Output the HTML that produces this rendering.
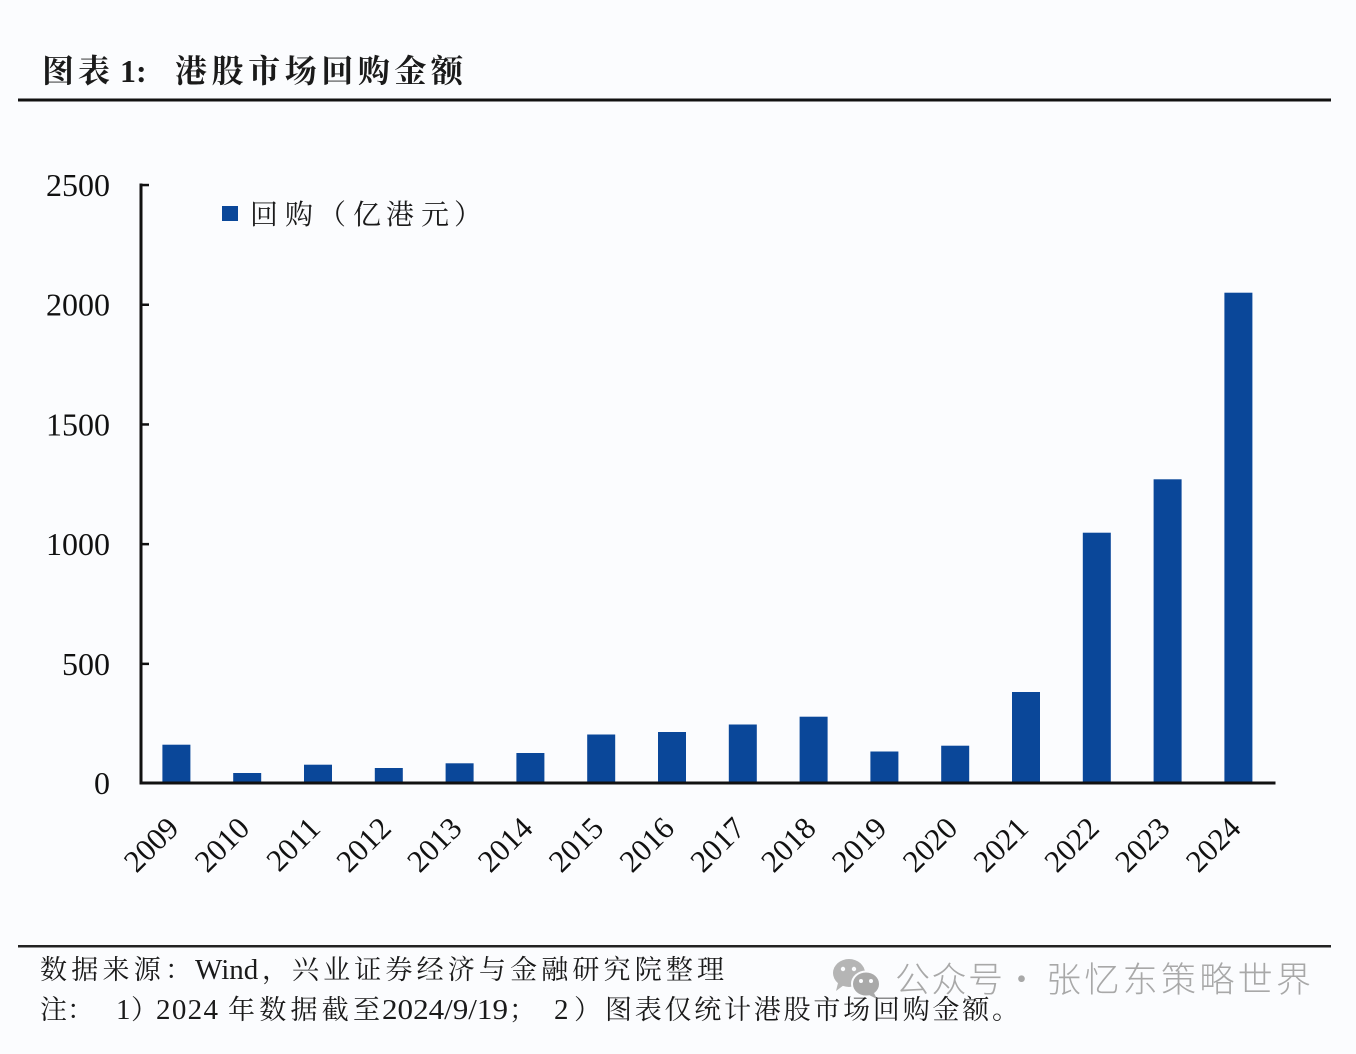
<!DOCTYPE html>
<html>
<head>
<meta charset="utf-8">
<style>
  html,body{margin:0;padding:0;background:#fbfcfe;}
  svg{display:block;}
</style>
</head>
<body>
<svg width="1356" height="1054" viewBox="0 0 1356 1054" xmlns="http://www.w3.org/2000/svg">
  <rect x="0" y="0" width="1356" height="1054" fill="#fbfcfe"/>

  <!-- Title -->
  <g font-family="'Liberation Serif','Noto Serif CJK SC',serif" font-weight="bold" fill="#1a1a1a">
    <text x="42" y="82" font-size="32" textLength="68" lengthAdjust="spacing">图表</text>
    <text x="120" y="82" font-size="32">1:</text>
    <text x="175" y="82" font-size="32" textLength="288" lengthAdjust="spacing">港股市场回购金额</text>
  </g>
  <rect x="18" y="98.5" width="1313" height="3" fill="#111"/>

  <!-- Legend -->
  <rect x="222" y="206" width="16" height="15" fill="#0a4799"/>
  <text font-family="'Liberation Serif','Noto Serif CJK SC',serif" font-size="28" fill="#1a1a1a" y="224" x="250 285 318 353 386 421 454">回购（亿港元）</text>

  <!-- Y axis -->
  <rect x="139.5" y="183.5" width="3" height="601" fill="#111"/>
  <g fill="#111">
    <rect x="141" y="183.8" width="8" height="2.5"/>
    <rect x="141" y="303.5" width="8" height="2.5"/>
    <rect x="141" y="423.2" width="8" height="2.5"/>
    <rect x="141" y="542.9" width="8" height="2.5"/>
    <rect x="141" y="662.6" width="8" height="2.5"/>
  </g>
  <g font-family="'Liberation Serif',serif" font-size="32" fill="#111" text-anchor="end">
    <text x="110" y="196">2500</text>
    <text x="110" y="315.7">2000</text>
    <text x="110" y="435.4">1500</text>
    <text x="110" y="555.1">1000</text>
    <text x="110" y="674.8">500</text>
    <text x="110" y="794">0</text>
  </g>

  <!-- Bars -->
  <g fill="#0a4799">
    <rect x="162.4" y="744.7" width="28" height="38.3"/>
    <rect x="233.2" y="773" width="28" height="10"/>
    <rect x="304.0" y="764.7" width="28" height="18.3"/>
    <rect x="374.8" y="768" width="28" height="15"/>
    <rect x="445.6" y="763.3" width="28" height="19.7"/>
    <rect x="516.4" y="753" width="28" height="30"/>
    <rect x="587.2" y="734.5" width="28" height="48.5"/>
    <rect x="658.0" y="732" width="28" height="51"/>
    <rect x="728.8" y="724.5" width="28" height="58.5"/>
    <rect x="799.6" y="716.7" width="28" height="66.3"/>
    <rect x="870.4" y="751.5" width="28" height="31.5"/>
    <rect x="941.2" y="745.7" width="28" height="37.3"/>
    <rect x="1012.0" y="692" width="28" height="91"/>
    <rect x="1082.8" y="532.7" width="28" height="250.3"/>
    <rect x="1153.6" y="479.3" width="28" height="303.7"/>
    <rect x="1224.4" y="292.7" width="28" height="490.3"/>
  </g>

  <!-- X axis -->
  <rect x="139.5" y="781.5" width="1136" height="3" fill="#111"/>

  <!-- X labels -->
  <g font-family="'Liberation Serif',serif" font-size="31" fill="#111" text-anchor="end">
    <text transform="translate(180.4,830) rotate(-45)">2009</text>
    <text transform="translate(251.2,830) rotate(-45)">2010</text>
    <text transform="translate(322.0,830) rotate(-45)">2011</text>
    <text transform="translate(392.8,830) rotate(-45)">2012</text>
    <text transform="translate(463.6,830) rotate(-45)">2013</text>
    <text transform="translate(534.4,830) rotate(-45)">2014</text>
    <text transform="translate(605.2,830) rotate(-45)">2015</text>
    <text transform="translate(676.0,830) rotate(-45)">2016</text>
    <text transform="translate(746.8,830) rotate(-45)">2017</text>
    <text transform="translate(817.6,830) rotate(-45)">2018</text>
    <text transform="translate(888.4,830) rotate(-45)">2019</text>
    <text transform="translate(959.2,830) rotate(-45)">2020</text>
    <text transform="translate(1030.0,830) rotate(-45)">2021</text>
    <text transform="translate(1100.8,830) rotate(-45)">2022</text>
    <text transform="translate(1171.6,830) rotate(-45)">2023</text>
    <text transform="translate(1242.4,830) rotate(-45)">2024</text>
  </g>

  <!-- Footer line -->
  <rect x="18" y="945" width="1313" height="2.5" fill="#222"/>

  <!-- Footer text line 1 -->
  <g font-family="'Liberation Serif','Noto Serif CJK SC',serif" fill="#1a1a1a">
    <text x="40" y="979" font-size="27" textLength="152" lengthAdjust="spacing">数据来源：</text>
    <text x="195" y="979" font-size="29">Wind</text>
    <text x="262" y="979" font-size="27">，</text>
    <text x="292" y="979" font-size="27" textLength="432" lengthAdjust="spacing">兴业证券经济与金融研究院整理</text>
  </g>
  <!-- Footer text line 2 -->
  <g font-family="'Liberation Serif','Noto Serif CJK SC',serif" fill="#1a1a1a">
    <text x="40" y="1019" font-size="27">注：</text>
    <text x="116" y="1019" font-size="29">1</text>
    <text x="131" y="1019" font-size="27">）</text>
    <text x="156" y="1019" font-size="29" textLength="62" lengthAdjust="spacing">2024</text>
    <text x="228" y="1019" font-size="27" textLength="152" lengthAdjust="spacing">年数据截至</text>
    <text x="382" y="1019" font-size="29" textLength="126" lengthAdjust="spacingAndGlyphs">2024/9/19</text>
    <text x="509" y="1019" font-size="27">；</text>
    <text x="554" y="1019" font-size="29">2</text>
    <text x="574" y="1019" font-size="27">）</text>
    <text x="605" y="1019" font-size="27" textLength="414" lengthAdjust="spacing">图表仅统计港股市场回购金额。</text>
  </g>

  <!-- Watermark -->
  <g opacity="0.85">
    <ellipse cx="849" cy="973" rx="16" ry="14" fill="#a9a9a9"/>
    <path d="M838 983 L836 991 L844 985 Z" fill="#a9a9a9"/>
    <ellipse cx="866" cy="984" rx="14" ry="12.5" fill="#9b9b9b" stroke="#fbfcfe" stroke-width="2"/>
    <path d="M874 993 L877 999 L869 995 Z" fill="#9b9b9b"/>
    <circle cx="843" cy="969" r="2.2" fill="#fbfcfe"/>
    <circle cx="854" cy="969" r="2.2" fill="#fbfcfe"/>
    <circle cx="861" cy="981" r="2" fill="#fbfcfe"/>
    <circle cx="871" cy="981" r="2" fill="#fbfcfe"/>
  </g>
  <g font-family="'Noto Sans CJK SC','Liberation Sans',sans-serif" font-weight="300" font-size="35" fill="#a8a8a8">
    <text x="895" y="992" textLength="108" lengthAdjust="spacing">公众号</text>
    <text x="1004" y="992">·</text>
    <text x="1046" y="992" textLength="265" lengthAdjust="spacing">张忆东策略世界</text>
  </g>
</svg>
</body>
</html>
